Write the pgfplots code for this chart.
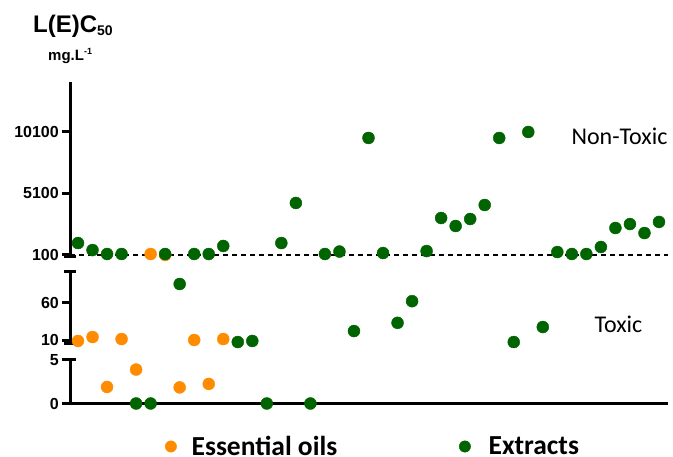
\documentclass[border=0pt]{standalone}
\usepackage{pgfplots}
\pgfplotsset{compat=1.18}
\usepackage{fontspec}
\setmainfont{Liberation Sans}
\newfontfamily\carlito{Carlito}
\definecolor{eo}{RGB}{255,140,0}
\definecolor{ex}{RGB}{0,100,0}
\pgfplotsset{
  brk/.style={
    scale only axis, width=598pt, xmin=-0.551, xmax=40.62,
    axis y line*=left, clip=false, enlargelimits=false,
    scaled y ticks=false,
    axis line style={line width=3pt, black},
    tick align=outside, major tick length=8pt,
    major tick style={line width=3pt, black},
    xtick=\empty,
    yticklabel style={font=\fontsize{16}{18}\selectfont\bfseries, inner sep=3pt},
  },
  pEO/.style={only marks, mark=*, mark size=6pt, color=eo},
  pEX/.style={only marks, mark=*, mark size=6pt, color=ex},
}
\tikzset{brkcap/.style={line width=3pt, black}}
\begin{document}
\begin{tikzpicture}
\useasboundingbox (0,0) rectangle (673pt,457pt);
% ---------- top segment (non-toxic) ----------
\begin{axis}[brk, axis x line=none, at={(70pt,200pt)}, anchor=south west,
  height=175pt, ymin=-62, ymax=14130,
  ytick={100,5100,10100}, yticklabels={100,5100,10100}]
\addplot[black, dash pattern=on 5pt off 4pt, line width=1.3pt, no marks]
  coordinates {(-0.551,100) (40.62,100)};
\addplot[pEO] coordinates {(5,180) (6,100)};
\addplot[pEX] coordinates {
(0,1070) (1,500) (2,180) (3,180) (6,180) (8,180) (9,180) (10,830)
(14,1070) (15,4320) (17,180) (18,380) (20,9590) (21,260) (24,420)
(25,3100) (26,2450) (27,3020) (28,4155) (29,9590) (31,10075) (33,340)
(34,180) (35,180) (36,750) (37,2290) (38,2610) (39,1880) (40,2780)};
\draw[brkcap] ([xshift=-6pt]rel axis cs:0,0) -- ([xshift=6pt]rel axis cs:0,0);
\end{axis}
% ---------- middle segment ----------
\begin{axis}[brk, axis x line=none, at={(70pt,113.7pt)}, anchor=south west,
  height=71.6pt, ymin=5.6, ymax=101.5,
  ytick={10,60}, yticklabels={10,60}]
\addplot[pEO] coordinates {(0,8.7) (1,14) (3,11.3) (8,10) (10,11.3)};
\addplot[pEX] coordinates {(7,85) (11,7.3) (12,8.7) (19,22) (22,33) (23,62) (30,7.3) (32,27.4)};
\draw[brkcap] ([xshift=-6pt]rel axis cs:0,0) -- ([xshift=6pt]rel axis cs:0,0);
\draw[brkcap] ([xshift=-6pt]rel axis cs:0,1) -- ([xshift=6pt]rel axis cs:0,1);
\end{axis}
% ---------- bottom segment ----------
\begin{axis}[brk, axis x line*=bottom, at={(70pt,53.5pt)}, anchor=south west,
  height=43.5pt, ymin=0, ymax=5,
  ytick={0,5}, yticklabels={0,5},
  legend columns=2,
  legend image code/.code={\draw[#1,mark size=5.7pt] plot coordinates {(0pt,0pt)};},
  legend style={at={(0.1589,-0.9885)}, anchor=west, draw=none, fill=none,
    inner sep=0pt, nodes={inner ysep=0pt},
    font=\carlito\bfseries\fontsize{27.5}{30}\selectfont,
    /tikz/column 1/.style={column sep=13pt},
    /tikz/column 2/.style={column sep=120pt},
    /tikz/column 3/.style={column sep=16pt}}]
\addplot[pEO] coordinates {(2,1.9) (4,3.9) (7,1.85) (9,2.25)};
\addlegendentry{Essential oils}
\addplot[pEX] coordinates {(4,0) (5,0) (13,0) (16,0)};
\addlegendentry{Extracts}
\draw[brkcap] ([xshift=-6pt]rel axis cs:0,1) -- ([xshift=6pt]rel axis cs:0,1);
\end{axis}
% ---------- annotations ----------
\node[anchor=base, inner sep=0pt, font=\carlito\fontsize{24}{28}\selectfont] at (619.5pt,312pt) {Non-Toxic};
\node[anchor=base, inner sep=0pt, font=\carlito\fontsize{24}{28}\selectfont] at (618.5pt,124pt) {Toxic};
\node[anchor=base west, inner sep=0pt, font=\fontsize{24}{28}\selectfont\bfseries] at (33pt,424pt)
  {L(E)C\raisebox{-3pt}{\fontsize{14}{16}\selectfont 50}};
\node[anchor=base west, inner sep=0pt, font=\fontsize{15}{18}\selectfont\bfseries] at (48pt,396pt)
  {mg.L\raisebox{6pt}{\fontsize{9}{10}\selectfont -1}};
\end{tikzpicture}
\end{document}
